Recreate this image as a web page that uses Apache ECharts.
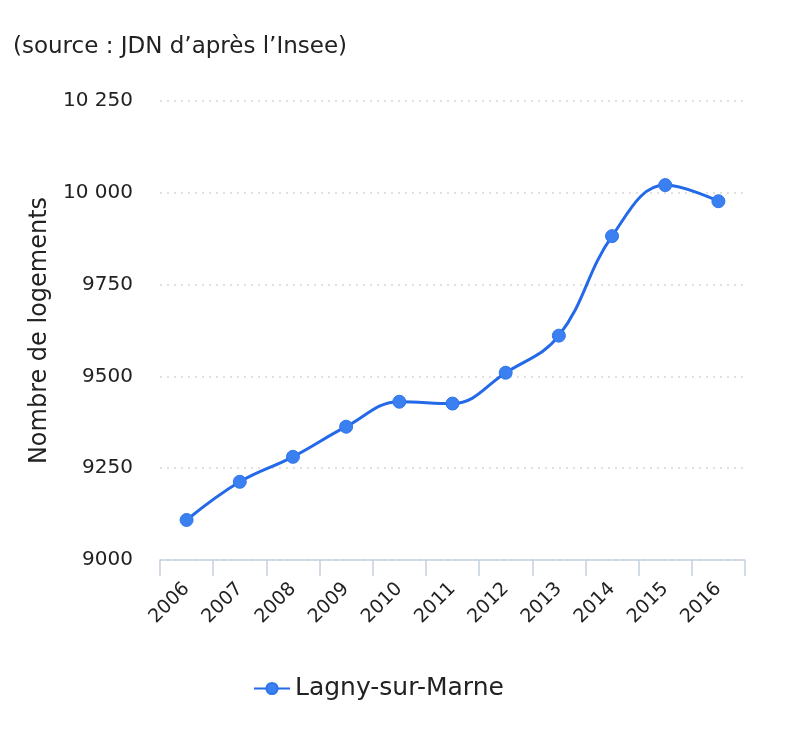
<!DOCTYPE html>
<html><head><meta charset="utf-8">
<script src="https://cdn.jsdelivr.net/npm/echarts@6/dist/echarts.min.js"></script>
<style>html,body{margin:0;padding:0;background:#fff;}#c{width:800px;height:742px;}</style>
</head><body><div id="c"></div>
<script>
const years = ['2006','2007','2008','2009','2010','2011','2012','2013','2014','2015','2016'];
const logements = [9109, 9213, 9281, 9363, 9431, 9426, 9510, 9611, 9882, 10021, 9977];
const seriesName = 'Lagny-sur-Marne';
const yMin = 9000, yMax = 10250, yStep = 250;

const chart = echarts.init(document.getElementById('c'));
const font = '"DejaVu Sans", sans-serif';
chart.setOption({
  animation: false,
  textStyle: {fontFamily: font},
  title: {text: '(source : JDN d\u2019après l\u2019Insee)', left: 8, top: 31,
    textStyle: {fontFamily: font, fontSize: 23, fontWeight: 'normal', color: '#222'}},
  grid: {left: 160, right: 55, top: 101, bottom: 182},
  legend: {bottom: 36, left: 248, itemWidth: 36, itemHeight: 14, itemGap: 10,
    textStyle: {fontFamily: font, fontSize: 25, color: '#222'}},
  xAxis: {type: 'category', data: years, boundaryGap: true,
    axisLine: {show: true, lineStyle: {color: '#c4d0de', width: 1.5}},
    axisTick: {show: true, alignWithLabel: false, length: 16, lineStyle: {color: '#c4d0de', width: 1.5}},
    axisLabel: {rotate: 45, fontSize: 19, color: '#222', margin: 26, fontFamily: font}},
  yAxis: {type: 'value', min: yMin, max: yMax, interval: yStep,
    name: 'Nombre de logements', nameLocation: 'middle', nameGap: 108, nameRotate: 90,
    nameTextStyle: {fontSize: 24, color: '#222', fontFamily: font},
    axisLine: {show: false}, axisTick: {show: false},
    axisLabel: {fontSize: 20, color: '#222', margin: 27, fontFamily: font,
      formatter: v => v >= 10000 ? String(v).replace(/^(\d+)(\d{3})$/, '$1 $2') : String(v)},
    splitLine: {lineStyle: {type: [2, 5], color: '#d6d6d6', width: 1.5}}},
  series: [{name: seriesName, type: 'line', data: logements, smooth: 0.4,
    symbol: 'circle', symbolSize: 13,
    lineStyle: {color: '#2369e8', width: 3},
    itemStyle: {color: '#3a80f0', borderColor: '#2f74ec', borderWidth: 1}}]
});
</script></body></html>
